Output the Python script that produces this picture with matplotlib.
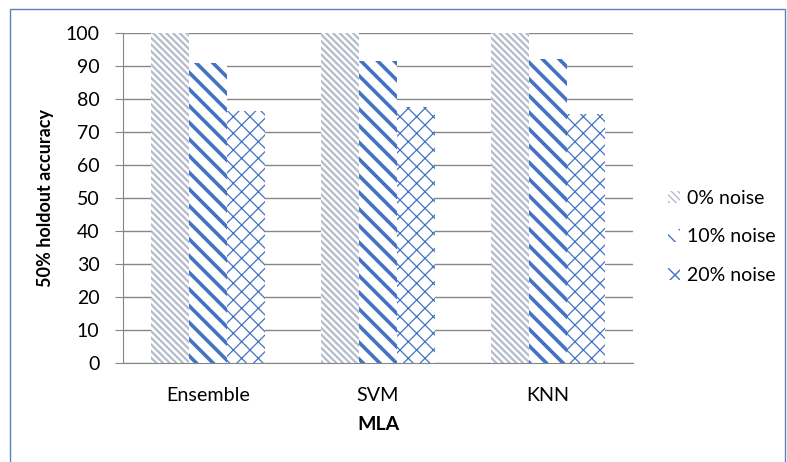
"""
    Bar chart of 50% holdout accuracy for each MLA at three noise levels
"""
import numpy as np
import matplotlib.pyplot as plt
from matplotlib.patches import Rectangle

plt.rcParams['font.family'] = ['Lato', 'DejaVu Sans']

methods = ["Ensemble", "SVM", "KNN"]
noise_labels = ["0% noise", "10% noise", "20% noise"]
acc_0 = [100, 100, 100]
acc_10 = [90.8, 91.6, 92.0]
acc_20 = [76.5, 77.6, 75.4]

hatch_styles = [
    # (hatch, hatch colour, hatch width)
    ('\\\\\\\\\\', '#b4bccb', 1.6),
    ('\\\\', '#4472c4', 2.6),
    ('xx', '#4472c4', 0.9),
]


def plot_accuracy(save_plot='out.png'):
    fig = plt.figure(figsize=(7.87, 4.62), dpi=100)
    ax = fig.add_axes([123 / 787, 99 / 462, 510 / 787, 330 / 462])

    x = np.arange(len(methods))
    width = 0.222
    series = [acc_0, acc_10, acc_20]
    for i, (vals, label, (hatch, hcol, hlw)) in enumerate(zip(series, noise_labels, hatch_styles)):
        bars = ax.bar(x + (i - 1) * width, vals, width, facecolor='white',
                      edgecolor=hcol, hatch=hatch, linewidth=0, label=label, zorder=2)
        for b in bars:
            if hasattr(b, 'set_hatch_linewidth'):
                b.set_hatch_linewidth(hlw)

    ax.set_xlim(-0.5, len(methods) - 0.5)
    ax.set_ylim(0, 100)
    ax.set_yticks(np.arange(0, 101, 10))
    ax.set_xticks(x)
    ax.set_xticklabels(methods)
    ax.grid(axis='y', color='#868686', linewidth=1, zorder=0)
    ax.set_axisbelow(True)

    for side in ['top', 'right']:
        ax.spines[side].set_visible(False)
    for side in ['left', 'bottom']:
        ax.spines[side].set_color('#868686')
    ax.tick_params(axis='y', length=6, color='#868686', labelsize=14, pad=11)
    ax.tick_params(axis='x', length=0, labelsize=14.2, pad=17)

    ax.set_ylabel("50% holdout accuracy", fontsize=13, fontweight='bold', labelpad=8)
    ax.set_xlabel("MLA", fontsize=14, fontweight='bold', labelpad=9)

    leg = ax.legend(loc='center left', bbox_to_anchor=(1.069, 0.382), frameon=False,
                    fontsize=14, handlelength=0.6, handleheight=0.6,
                    handletextpad=0.35, labelspacing=1.1,
                    borderaxespad=0, borderpad=0)
    for h in leg.legend_handles:
        if hasattr(h, 'set_hatch_linewidth'):
            h.set_hatch_linewidth(1.0)

    # thin chart-area border
    fig.patches.append(Rectangle((10 / 787, -0.05), 775 / 787, 1.05 - 9 / 462,
                                 transform=fig.transFigure, fill=False,
                                 edgecolor='#5a82bd', linewidth=1))

    plt.savefig(save_plot, dpi=100)


if __name__ == "__main__":
    plot_accuracy()
